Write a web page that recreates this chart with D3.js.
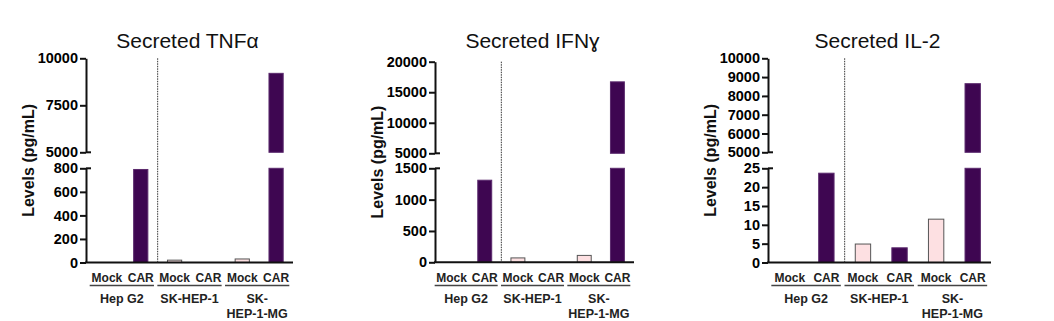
<!DOCTYPE html>
<html>
<head>
<meta charset="utf-8">
<script src="https://cdn.jsdelivr.net/npm/d3@7"></script>
<style>
body { margin: 0; background: #fff; }
svg text { font-family: Arial, "Liberation Sans", sans-serif; }
</style>
</head>
<body>
<svg id="chart"></svg>
<script>
// data
var bars = ["HepG2-Mock","HepG2-CAR","SK-Mock","SK-CAR","MG-Mock","MG-CAR"];
var barLabels = ["Mock","CAR","Mock","CAR","Mock","CAR"];
var barType = ["mock","car","mock","car","mock","car"];
var groups = [["Hep G2"],["SK-HEP-1"],["SK-","HEP-1-MG"]];
var titles = ["Secreted TNF\u03b1","Secreted IFN\u0263","Secreted IL-2"];

var tnfValues  = [0, 790, 20, 0, 30, 9200];
var ifnValues  = [0, 1310, 70, 0, 110, 16700];
var il2Values  = [0, 23.7, 4.9, 3.9, 11.5, 8650];

var tnfLowTicks  = [0, 200, 400, 600, 800];
var tnfHighTicks = [5000, 7500, 10000];
var ifnLowTicks  = [0, 500, 1000, 1500];
var ifnHighTicks = [5000, 10000, 15000, 20000];
var il2LowTicks  = [0, 5, 10, 15, 20, 25];
var il2HighTicks = [5000, 6000, 7000, 8000, 9000, 10000];

var width = 1054, height = 321;
var svg = d3.select("#chart").attr("width", width).attr("height", height);

var panels = [
  {title: titles[0], values: tnfValues, low: tnfLowTicks, high: tnfHighTicks,
   ax: 86, xs: 90, xe: 293, top: 58.3, brkHi: 152.3, brkLo: 168.3, zero: 262.5},
  {title: titles[1], values: ifnValues, low: ifnLowTicks, high: ifnHighTicks,
   ax: 435, xs: 435, xe: 634, top: 61.7, brkHi: 153.3, brkLo: 168.3, zero: 262.3},
  {title: titles[2], values: il2Values, low: il2LowTicks, high: il2HighTicks,
   ax: 768, xs: 771.5, xe: 991, top: 58.3, brkHi: 152.3, brkLo: 168.3, zero: 262.5}
];

var carFill = "#3e0651", carStroke = "#5b2a6d";
var mockFill = "#fde0e2", mockStroke = "#555";

panels.forEach(function(p){
  var g = svg.append("g");
  var lowMax = p.low[p.low.length-1];
  var highMin = p.high[0], highMax = p.high[p.high.length-1];

  var yLow = d3.scaleLinear().domain([0, lowMax]).range([p.zero, p.brkLo]);
  var yHigh = d3.scaleLinear().domain([highMin, highMax]).range([p.brkHi, p.top]);
  var x = d3.scaleBand().domain(bars).range([p.xs, p.xe]).paddingInner(0.58).paddingOuter(0.29);
  var step = x.step();

  // bars, split across the break
  bars.forEach(function(b, i){
    var v = p.values[i];
    if (v <= 0) return;
    var fill = barType[i] == "car" ? carFill : mockFill;
    var stroke = barType[i] == "car" ? carStroke : mockStroke;
    var lowTop = Math.min(v, lowMax);
    g.append("rect")
      .attr("x", x(b)).attr("width", x.bandwidth())
      .attr("y", yLow(lowTop)).attr("height", yLow(0) - yLow(lowTop))
      .attr("fill", fill).attr("stroke", stroke).attr("stroke-width", 1);
    if (v > lowMax) {
      g.append("rect")
        .attr("x", x(b)).attr("width", x.bandwidth())
        .attr("y", yHigh(v)).attr("height", yHigh(highMin) - yHigh(v))
        .attr("fill", fill).attr("stroke", stroke).attr("stroke-width", 1);
    }
  });

  // axes
  var axLow = g.append("g").attr("transform", "translate(" + p.ax + ",0)")
    .call(d3.axisLeft(yLow).tickValues(p.low).tickSize(6).tickSizeOuter(0).tickFormat(d3.format("d")));
  var axHigh = g.append("g").attr("transform", "translate(" + p.ax + ",0)")
    .call(d3.axisLeft(yHigh).tickValues(p.high).tickSize(6).tickSizeOuter(0).tickFormat(d3.format("d")));
  [axLow, axHigh].forEach(function(a){
    a.attr("font-family", null).attr("font-size", null);
    a.select(".domain").attr("stroke", "#111").attr("stroke-width", 2);
    a.selectAll(".tick line").attr("stroke", "#111").attr("stroke-width", 2);
    a.selectAll(".tick text").attr("font-size", 14.5).attr("font-weight", "bold")
      .attr("fill", "#000").attr("x", -8);
  });
  // break marks
  [yHigh(highMin), yLow(lowMax)].forEach(function(yy){
    g.append("line").attr("x1", p.ax).attr("x2", p.ax + 5)
      .attr("y1", yy).attr("y2", yy).attr("stroke", "#111").attr("stroke-width", 2);
  });
  // x axis
  g.append("line").attr("x1", p.ax - 1).attr("x2", p.xe)
    .attr("y1", p.zero).attr("y2", p.zero).attr("stroke", "#111").attr("stroke-width", 2);

  // dotted divider after Hep G2
  var dx = x(bars[2]) - x.paddingInner() * step / 2;
  g.append("line").attr("x1", dx).attr("x2", dx)
    .attr("y1", p.top).attr("y2", p.zero)
    .attr("stroke", "#333").attr("stroke-width", 1).attr("stroke-dasharray", "1.5,1");

  // bar labels
  bars.forEach(function(b, i){
    g.append("text").attr("x", x(b) + x.bandwidth()/2).attr("y", 282)
      .attr("text-anchor", "middle").attr("font-size", 12).attr("font-weight", "bold")
      .attr("fill", "#222").text(barLabels[i]);
  });

  // group underlines and names
  groups.forEach(function(names, gi){
    var c1 = x(bars[gi*2]) + x.bandwidth()/2;
    var c2 = x(bars[gi*2+1]) + x.bandwidth()/2;
    var x1 = c1 - step*0.45 - 2, x2 = c2 + step*0.45 - 2;
    g.append("line").attr("x1", x1).attr("x2", x2).attr("y1", 285.5).attr("y2", 285.5)
      .attr("stroke", "#444").attr("stroke-width", 1.5);
    names.forEach(function(n, k){
      g.append("text").attr("x", (x1 + x2)/2).attr("y", 303 + k*15)
        .attr("text-anchor", "middle").attr("font-size", 12.5).attr("font-weight", "bold")
        .attr("fill", "#222").text(n);
    });
  });

  // title and y label
  g.append("text").attr("x", (p.ax + p.xe)/2 - 2).attr("y", 48)
    .attr("text-anchor", "middle").attr("font-size", 21).attr("fill", "#111").text(p.title);
  g.append("text")
    .attr("transform", "translate(" + (p.ax - 52) + "," + ((p.top + p.zero)/2) + ") rotate(-90)")
    .attr("text-anchor", "middle").attr("font-size", 16).attr("font-weight", "bold")
    .attr("fill", "#111").text("Levels (pg/mL)");
});
</script>
</body>
</html>
